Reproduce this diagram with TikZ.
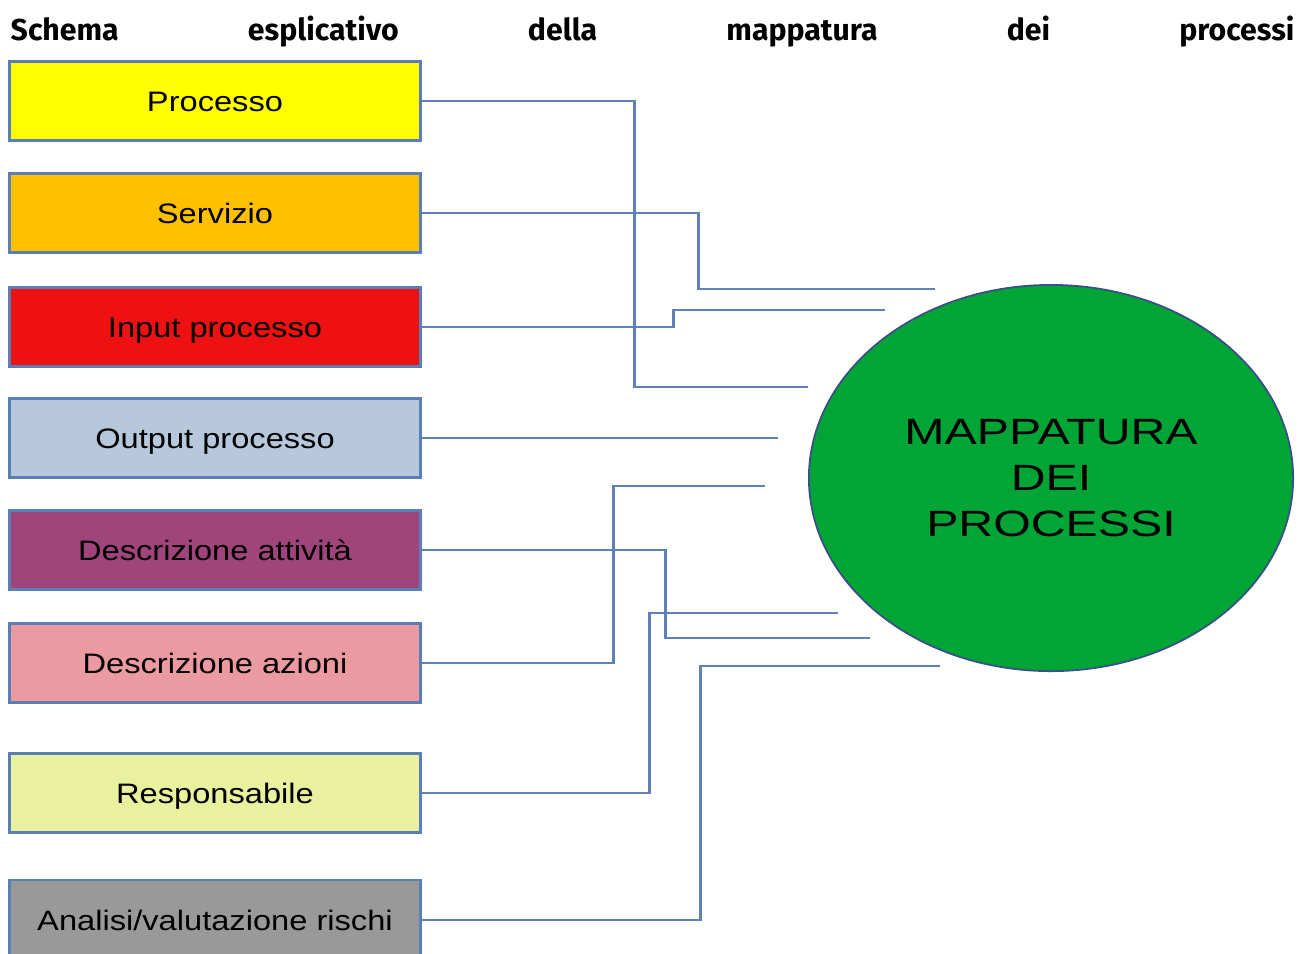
\documentclass[tikz,border=0pt]{standalone}
\usepackage{fontspec}
\usepackage{xcolor}
\usepackage{tikz}
\usetikzlibrary{shapes.geometric}
\newfontfamily\boxfont{Liberation Sans}[FakeStretch=1.16]
\newfontfamily\ovalfont{Liberation Sans}[FakeStretch=1.32]
\newfontfamily\titlefont{Fira Sans}
\definecolor{giallo}{HTML}{FFFF00}
\definecolor{arancio}{HTML}{FFC000}
\definecolor{rosso}{HTML}{EE1111}
\definecolor{azzurro}{HTML}{B7C8DD}
\definecolor{viola}{HTML}{A0457B}
\definecolor{rosa}{HTML}{EC9AA2}
\definecolor{paglia}{HTML}{E9F19E}
\definecolor{grigio}{HTML}{999999}
\definecolor{verde}{HTML}{00A535}
\definecolor{bordoblu}{HTML}{5A7EB6}
\definecolor{linkblu}{HTML}{5E82B8}
\definecolor{bordoscuro}{HTML}{3A4F8A}
\tikzset{
  voce/.style={draw=bordoblu,line width=0.8pt,minimum width=4.1cm,minimum height=0.79cm,inner sep=0pt,text height=5.7pt,text depth=0pt,font=\boxfont\fontsize{8}{9.6}\selectfont},
  link/.style={linkblu,line width=0.6pt}
}

\begin{document}
\begin{tikzpicture}[x=0.01cm,y=-0.01cm]
\useasboundingbox (0,0) rectangle (1298,953);
\node[anchor=base west,inner sep=0pt] (titolo) at (10,40) {\makebox[12.83cm][s]{\titlefont\bfseries\fontsize{8.6}{10}\selectfont Schema esplicativo della mappatura dei processi}};
% voci a sinistra
\node[voce,fill=giallo] (proc) at (215,101) {Processo};
\node[voce,fill=arancio] (serv) at (215,213) {Servizio};
\node[voce,fill=rosso] (inp) at (215,327) {Input processo};
\node[voce,fill=azzurro] (outp) at (215,438) {Output processo};
\node[voce,fill=viola] (att) at (215,550) {Descrizione attività};
\node[voce,fill=rosa] (az) at (215,663) {Descrizione azioni};
\node[voce,fill=paglia] (resp) at (215,793) {Responsabile};
\node[voce,fill=grigio,minimum height=0.8cm] (risk) at (215,920) {Analisi/valutazione rischi};
% ovale
\node[ellipse,draw=bordoscuro,line width=0.5pt,fill=verde,minimum width=4.84cm,minimum height=3.86cm,inner sep=0pt,align=center,font=\ovalfont\fontsize{10.4}{13}\selectfont] (mappa) at (1051,478) {MAPPATURA\\DEI\\PROCESSI};
% estremi liberi
\coordinate (e1) at (808,387);
\coordinate (e2) at (935,289);
\coordinate (e3) at (885,310);
\coordinate (e4) at (778,438);
\coordinate (e5) at (870,638);
\coordinate (e6) at (765,486);
\coordinate (e7) at (838,613);
\coordinate (e8) at (940,666);
\draw[link] (proc.east) -- ++(213,0) |- (e1);
\draw[link] (serv.east) -- ++(277,0) |- (e2);
\draw[link] (inp.east) -- ++(252,0) |- (e3);
\draw[link] (outp.east) -- (e4);
\draw[link] (att.east) -- ++(244,0) |- (e5);
\draw[link] (az.east) -- ++(192,0) |- (e6);
\draw[link] (resp.east) -- ++(228,0) |- (e7);
\draw[link] (risk.east) -- ++(279,0) |- (e8);
\end{tikzpicture}
\end{document}
